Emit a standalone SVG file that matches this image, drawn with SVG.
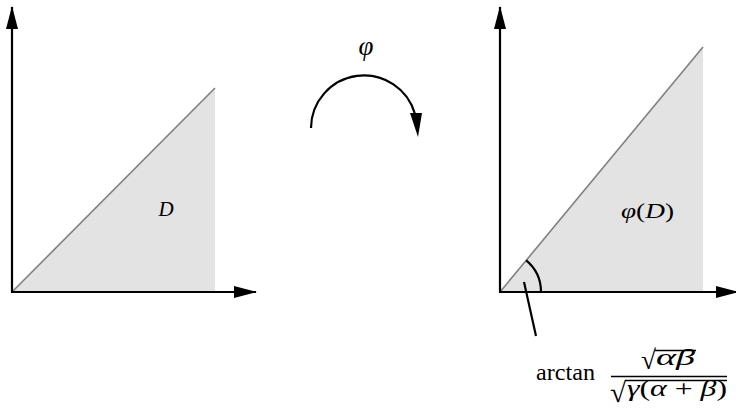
<svg xmlns="http://www.w3.org/2000/svg" width="736" height="409" viewBox="0 0 736 409">
<style>
.ax{stroke:#000;stroke-width:2.2;fill:none}
.diag{stroke:#808080;stroke-width:1.6;fill:none}
.reg{fill:#e3e3e3;stroke:none}
.m{font-family:"Liberation Serif","DejaVu Serif",serif;fill:#000;font-weight:normal}
.i{font-style:italic}
.ln{stroke:#000;stroke-width:1.4;fill:none}
</style>
<defs>
<marker id="ah" markerWidth="23" markerHeight="12" refX="22" refY="6" orient="auto" markerUnits="userSpaceOnUse">
<path d="M0,0 L23,6 L0,12 Z" fill="#000"/>
</marker>
</defs>
<rect width="736" height="409" fill="#fff"/>
<g id="left-plot">
<polygon class="reg" points="12,292 215,88 215,292"/>
<line class="diag" x1="12" y1="292" x2="215" y2="88"/>
<text class="m i" x="166" y="216" font-size="21" text-anchor="middle">D</text>
</g>
<g id="right-plot">
<polygon class="reg" points="500,292 703,47 703,292"/>
<line class="diag" x1="500" y1="292" x2="703" y2="47"/>
<text class="m" x="621" y="218" font-size="21" textLength="53" lengthAdjust="spacingAndGlyphs"><tspan class="i">φ</tspan>(<tspan class="i">D</tspan>)</text>
</g>
<g id="map-label">
<text class="m i" x="366" y="55" font-size="27" text-anchor="middle">φ</text>
</g>
<g id="formula">
<text class="m" x="536" y="380" font-size="23" textLength="59" lengthAdjust="spacingAndGlyphs">arctan</text>
<text class="m" x="641" y="369" font-size="27" textLength="15" lengthAdjust="spacingAndGlyphs">√</text>
<line class="ln" x1="655" y1="350.5" x2="696" y2="350.5"/>
<text class="m i" x="656" y="365" font-size="23" textLength="39" lengthAdjust="spacingAndGlyphs">αβ</text>
<line class="ln" x1="611" y1="376.5" x2="727" y2="376.5"/>
<text class="m" x="610" y="402" font-size="28" textLength="16" lengthAdjust="spacingAndGlyphs">√</text>
<line class="ln" x1="625" y1="380.5" x2="727" y2="380.5"/>
<text class="m" x="627" y="396" font-size="23" textLength="100" lengthAdjust="spacingAndGlyphs"><tspan class="i">γ</tspan>(<tspan class="i">α</tspan> + <tspan class="i">β</tspan>)</text>
</g>
<g id="connectors">
<line class="ax" x1="12" y1="292" x2="12" y2="7" marker-end="url(#ah)"/>
<line class="ax" x1="11" y1="292" x2="256" y2="292" marker-end="url(#ah)"/>
<line class="ax" x1="500" y1="292" x2="500" y2="7" marker-end="url(#ah)"/>
<line class="ax" x1="499" y1="292" x2="738" y2="292" marker-end="url(#ah)"/>
<path class="ax" d="M311,128 A53,53 0 0 1 415,114"/>
<polygon points="410,113 422,113 418,137" fill="#000"/>
<path class="ax" d="M541,292 A41,41 0 0 0 526.2,260.4"/>
<line class="ax" x1="524" y1="282" x2="536" y2="336"/>
</g>
</svg>
